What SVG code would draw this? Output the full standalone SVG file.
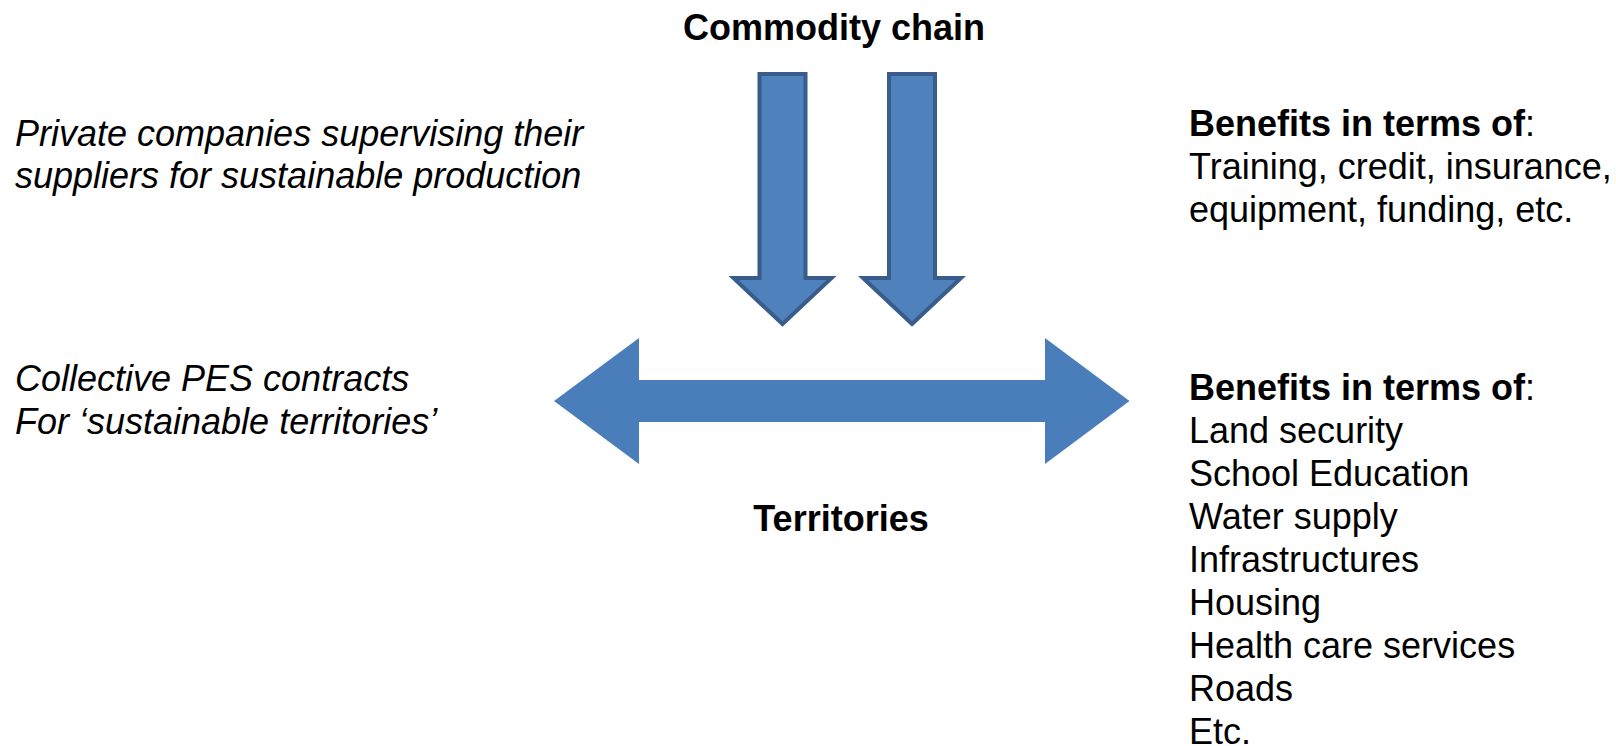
<svg xmlns="http://www.w3.org/2000/svg" width="1616" height="746" viewBox="0 0 1616 746">
  <style>
    text { font-family: "Liberation Sans", Arial, sans-serif; font-size: 36px; fill: #000; }
    .title { font-weight: bold; text-anchor: middle; }
    .note { font-style: italic; }
    .b { font-weight: bold; }
    .down { fill: #4F81BD; stroke: #385D8A; stroke-width: 4; stroke-linejoin: miter; }
    .both { fill: #4A7EBB; }
  </style>
  <defs>
    <!-- downward block arrow centred on x=0 -->
    <path id="downArrow" d="M-23,74 L23,74 L23,278 L49,278 L0,324 L-49,278 L-23,278 Z"/>
  </defs>

  <g id="commodity-chain">
    <text class="title" x="834" y="40">Commodity chain</text>
  </g>

  <g id="territories">
    <text class="title" x="841" y="531">Territories</text>
  </g>

  <g id="private-companies">
    <text class="note" x="15" y="146">Private companies supervising their</text>
    <text class="note" x="15" y="188">suppliers for sustainable production</text>
  </g>

  <g id="collective-pes">
    <text class="note" x="15" y="391">Collective PES contracts</text>
    <text class="note" x="15" y="434">For ‘sustainable territories’</text>
  </g>

  <g id="benefits-chain">
    <text x="1189" y="136"><tspan class="b">Benefits in terms of</tspan>:</text>
    <text x="1189" y="179">Training, credit, insurance,</text>
    <text x="1189" y="222">equipment, funding, etc.</text>
  </g>

  <g id="benefits-territories">
    <text x="1189" y="400"><tspan class="b">Benefits in terms of</tspan>:</text>
    <text x="1189" y="443">Land security</text>
    <text x="1189" y="486">School Education</text>
    <text x="1189" y="529">Water supply</text>
    <text x="1189" y="572">Infrastructures</text>
    <text x="1189" y="615">Housing</text>
    <text x="1189" y="658">Health care services</text>
    <text x="1189" y="701">Roads</text>
    <text x="1189" y="744">Etc.</text>
  </g>

  <g id="connectors">
    <use href="#downArrow" class="down" x="782.5"/>
    <use href="#downArrow" class="down" x="912"/>
    <path class="both" d="M554,401 L639,338 L639,380 L1045,380 L1045,338 L1129.5,401 L1045,464 L1045,422 L639,422 L639,464 Z"/>
  </g>
</svg>
